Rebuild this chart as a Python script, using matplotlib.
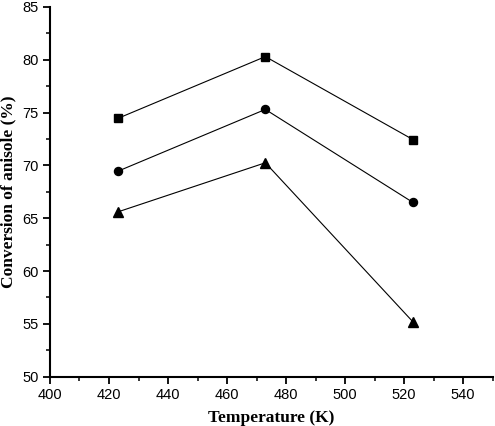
import matplotlib
matplotlib.use("Agg")
import matplotlib.pyplot as plt
from matplotlib.ticker import MultipleLocator

temperature = [423, 473, 523]
series_square = [74.45, 80.3, 72.45]
series_circle = [69.45, 75.3, 66.5]
series_triangle = [65.6, 70.25, 55.2]

fig = plt.figure(figsize=(4.95, 4.26), dpi=100)
ax = fig.add_axes([0.101, 0.1157, 0.894, 0.868])

ax.plot(temperature, series_square, color="black", lw=0.8, marker="s", ms=5.6, clip_on=False)
ax.plot(temperature, series_circle, color="black", lw=0.8, marker="o", ms=5.8, clip_on=False)
ax.plot(temperature, series_triangle, color="black", lw=0.8, marker="^", ms=7.5, clip_on=False)

ax.set_xlim(400, 550)
ax.set_ylim(50, 85)
ax.xaxis.set_major_locator(MultipleLocator(20))
ax.xaxis.set_minor_locator(MultipleLocator(10))
ax.yaxis.set_major_locator(MultipleLocator(5))
ax.yaxis.set_minor_locator(MultipleLocator(2.5))
ax.set_xticks([400, 420, 440, 460, 480, 500, 520, 540])

for s in ["top", "right"]:
    ax.spines[s].set_visible(False)
for s in ["left", "bottom"]:
    ax.spines[s].set_linewidth(1.5)

ax.tick_params(which="major", direction="out", length=5, width=1.3, labelsize=10.5, pad=3)
ax.tick_params(which="minor", direction="out", length=3, width=1.1)
for lab in ax.get_xticklabels() + ax.get_yticklabels():
    lab.set_family("Liberation Sans")

ax.set_xlabel("Temperature (K)", family="Liberation Serif", fontweight="bold", fontsize=12.5, labelpad=6)
ax.set_ylabel("Conversion of anisole (%)", family="Liberation Serif", fontweight="bold", fontsize=12.5)
ax.yaxis.label.set_va("center")
ax.yaxis.set_label_coords(-0.094, 0.5)

fig.savefig("out.png", dpi=100)
